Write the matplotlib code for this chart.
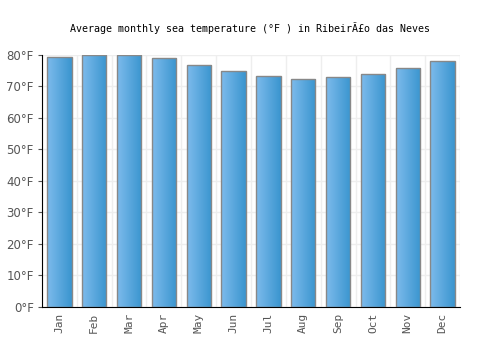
import numpy as np
import matplotlib
matplotlib.use("Agg")
import matplotlib.pyplot as plt
from matplotlib.colors import LinearSegmentedColormap

months = ["Jan", "Feb", "Mar", "Apr", "May", "Jun",
          "Jul", "Aug", "Sep", "Oct", "Nov", "Dec"]
temps_f = [79.2, 80.1, 80.0, 79.1, 76.9, 74.8, 73.2, 72.5, 72.9, 73.9, 75.8, 78.0]
y_ticks = [0, 10, 20, 30, 40, 50, 60, 70, 80]
title = "Average monthly sea temperature (°F ) in RibeirÃ£o das Neves"

fig = plt.figure(figsize=(5, 3.5), dpi=100)
ax = fig.add_axes([0.084, 0.123, 0.836, 0.72])

x = np.arange(len(months))
width = 0.7
cmap = LinearSegmentedColormap.from_list("bar", ["#7dbbec", "#3a95cf"])
grad = np.linspace(0, 1, 64).reshape(1, -1)

bars = ax.bar(x, temps_f, width=width, color="none", edgecolor="#888888",
              linewidth=1.0, zorder=3)
for b in bars:
    x0, y0 = b.get_x(), b.get_y()
    im = ax.imshow(grad, cmap=cmap, aspect="auto", zorder=2,
                   extent=[x0, x0 + b.get_width(), y0, y0 + b.get_height()])
    im.set_clip_path(b)

ax.set_xlim(-0.5, len(months) - 0.5)
ax.set_ylim(0, 80)
ax.set_xticks(x)
ax.set_xticklabels(months, rotation=90, fontsize=8, color="#555555",
                   family="DejaVu Sans Mono")
ax.set_yticks(y_ticks)
ax.set_yticklabels([f"{v}°F" for v in y_ticks], fontsize=8.5, color="#555555")
ax.set_xticks(np.arange(-0.5, len(months), 1), minor=True)
ax.grid(True, which="minor", axis="x", color="#eeeeee", linewidth=1, zorder=0)
ax.grid(True, which="major", axis="y", color="#eeeeee", linewidth=1, zorder=0)
ax.tick_params(axis="both", which="both", length=0, pad=4)
ax.tick_params(axis="y", length=3, color="#555555", pad=3)

for s in ["top", "right"]:
    ax.spines[s].set_visible(False)
ax.spines["left"].set_color("black")
ax.spines["bottom"].set_color("black")

fig.text(0.5, 0.92, title, ha="center", va="center", fontsize=7.2,
         family="DejaVu Sans Mono", color="black")

fig.savefig("out.png", dpi=100, facecolor="white")
